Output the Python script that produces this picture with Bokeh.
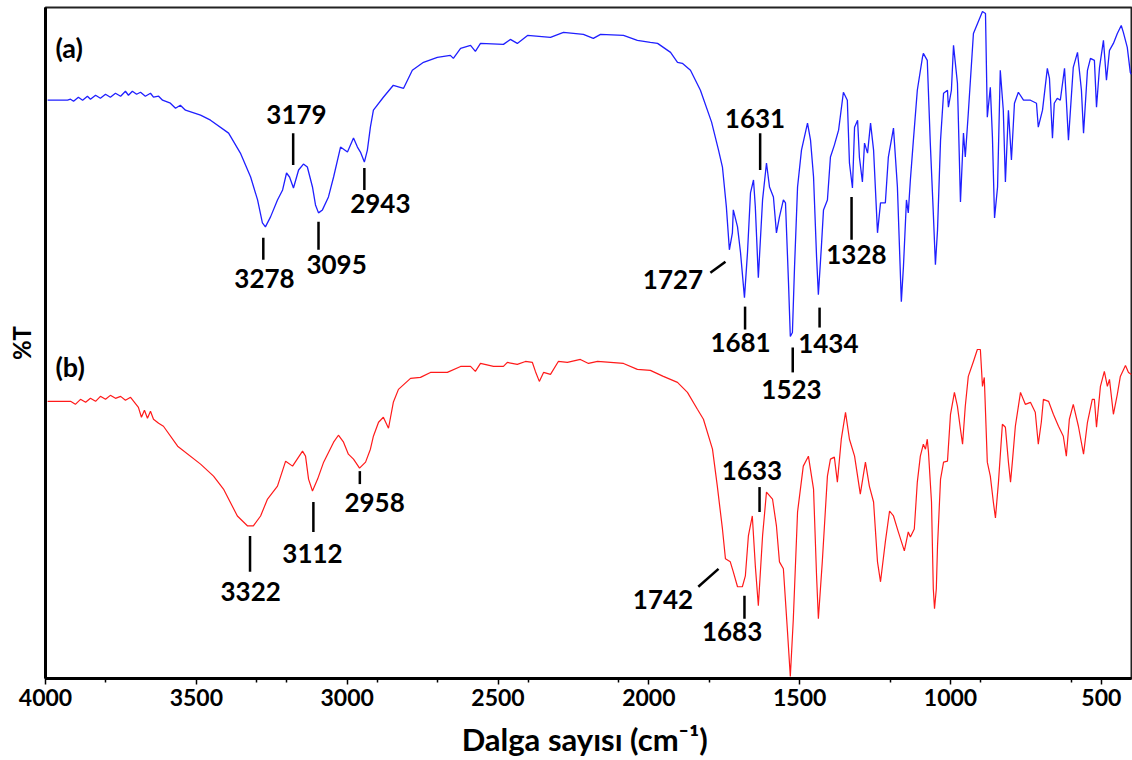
from bokeh.plotting import figure
from bokeh.models import Range1d, FixedTicker
from bokeh.core.properties import value
from bokeh.embed import file_html
from bokeh.resources import INLINE

# ---------------- data ----------------
# spectrum (a), blue: wavenumber (cm-1) and transmittance (arbitrary units)
wn_a = [3993, 3927, 3917, 3907, 3891, 3877, 3861, 3851, 3834, 3818, 3801, 3785, 3768, 3751, 3735,
        3725, 3712, 3698, 3685, 3669, 3652, 3642, 3625, 3612, 3586, 3569, 3553, 3536,
        3486, 3453, 3393, 3354, 3320, 3297, 3281, 3271,
        3254, 3231, 3214, 3201, 3191, 3178, 3161, 3145, 3132, 3115, 3105, 3095, 3082, 3062, 3045,
        3022, 2999, 2979, 2966, 2956, 2943, 2933, 2923, 2913, 2880, 2847, 2813, 2784, 2747, 2701,
        2658, 2648, 2624, 2591, 2575, 2558, 2482, 2459, 2436, 2402, 2326, 2283, 2217, 2184, 2160,
        2084, 2038, 1995, 1971, 1928, 1905, 1889, 1862, 1829, 1792, 1769, 1756, 1743, 1733, 1723,
        1720, 1706, 1696, 1683, 1673, 1663, 1653, 1647, 1637, 1623, 1610, 1600, 1587, 1577, 1567,
        1554, 1547, 1537, 1531, 1524, 1517, 1507, 1494, 1474, 1464, 1454, 1444, 1438, 1428, 1421,
        1408, 1398, 1385, 1371, 1355, 1342, 1335, 1325, 1318, 1308, 1302, 1292, 1285, 1275, 1265,
        1255, 1242, 1232, 1216, 1206, 1189, 1176, 1163, 1156, 1146, 1140, 1133, 1123, 1110, 1093,
        1090, 1077, 1067, 1057, 1050, 1043, 1033, 1023, 1010, 1007, 997, 990, 977, 967, 957,
        951, 941, 924, 894, 884, 878, 868, 861, 854, 844, 835, 825, 818, 808, 798,
        788, 775, 758, 735, 715, 709, 695, 679, 672, 662, 656, 646, 636, 622, 616,
        609, 593, 579, 566, 559, 546, 536, 523, 516, 506, 493, 483, 473, 460, 447,
        434, 427, 414, 404, 400]
t_a = [580, 580, 581, 579, 583, 580, 584, 581, 585, 582, 586, 583, 587, 584, 589,
       585, 589, 586, 588, 584, 587, 583, 584, 580, 577, 572, 575, 570,
       565, 560, 547, 527, 503, 480, 457, 453,
       463, 480, 490, 507, 503, 492, 510, 516, 513, 493, 475, 467, 470, 483, 503,
       533, 528, 542, 533, 528, 518, 530, 553, 570, 583, 595, 592, 610, 618, 623,
       625, 622, 632, 635, 629, 637, 636, 641, 637, 645, 643, 648, 646, 642, 646,
       645, 640, 638, 637, 628, 618, 617, 610, 590, 558, 530, 513, 473, 430, 447,
       470, 453, 427, 382, 427, 487, 500, 473, 402, 480, 517, 493, 483, 447, 463,
       480, 477, 397, 343, 347, 413, 493, 530, 557, 540, 503, 423, 385, 433, 470,
       480, 523, 535, 550, 588, 580, 517, 492, 553, 560, 523, 498, 537, 527, 557,
       530, 447, 477, 477, 523, 552, 493, 378, 413, 480, 467, 500, 540, 590, 623,
       627, 620, 537, 467, 415, 450, 540, 587, 590, 573, 590, 635, 597, 478, 547,
       523, 567, 647, 669, 667, 563, 593, 543, 462, 493, 610, 570, 498, 570, 520,
       577, 588, 580, 580, 577, 553, 570, 612, 602, 542, 577, 582, 580, 612, 580,
       540, 613, 628, 590, 547, 610, 622, 620, 573, 613, 640, 600, 630, 637, 647,
       655, 648, 633, 608, 606]

# spectrum (b), red
wn_b = [3993, 3917, 3901, 3884, 3867, 3851, 3834, 3818, 3801, 3785, 3768, 3751, 3735, 3718, 3705,
        3692, 3682, 3672, 3662, 3652, 3642, 3625, 3609, 3562, 3486, 3443, 3410, 3364, 3330,
        3311, 3287, 3264, 3231, 3204, 3181, 3148, 3138, 3128, 3115, 3098, 3078, 3045, 3029, 3012,
        2996, 2979, 2959, 2939, 2923, 2913, 2896, 2880, 2863, 2847, 2830, 2790, 2757, 2724, 2668,
        2624, 2591, 2575, 2558, 2515, 2482, 2469, 2436, 2409, 2386, 2376, 2363, 2349, 2326, 2300,
        2270, 2227, 2200, 2170, 2084, 2038, 1995, 1952, 1905, 1872, 1839, 1819, 1789, 1773, 1756,
        1746, 1730, 1720, 1706, 1690, 1680, 1670, 1657, 1647, 1637, 1623, 1610, 1590, 1577, 1567,
        1554, 1541, 1531, 1521, 1507, 1488, 1471, 1454, 1444, 1438, 1425, 1408, 1398, 1385, 1375,
        1362, 1348, 1335, 1318, 1299, 1282, 1269, 1255, 1242, 1232, 1216, 1202, 1189, 1173, 1153,
        1140, 1133, 1120, 1110, 1100, 1090, 1083, 1077, 1073, 1063, 1057, 1053, 1047, 1043, 1033,
        1023, 1010, 1000, 987, 977, 967, 960, 951, 941, 924, 911, 901, 894, 888, 878,
        868, 858, 851, 841, 828, 818, 808, 801, 795, 785, 768, 752, 735, 719, 709,
        699, 692, 675, 659, 642, 626, 616, 606, 593, 576, 559, 546, 530, 523, 516,
        503, 490, 480, 473, 460, 447, 437, 420, 410, 400]
t_b = [278, 278, 275, 280, 277, 281, 278, 283, 280, 284, 281, 283, 279, 282, 277,
       272, 262, 269, 261, 268, 260, 256, 253, 233, 215, 203, 190, 163, 153,
       153, 163, 180, 193, 218, 213, 228, 223, 200, 188, 200, 217, 237, 244, 237,
       225, 220, 211, 217, 230, 243, 257, 262, 251, 277, 290, 301, 302, 307, 307,
       313, 313, 308, 316, 313, 313, 317, 315, 318, 317, 308, 298, 307, 305, 318,
       317, 320, 316, 318, 316, 310, 309, 303, 297, 287, 270, 260, 230, 193, 150,
       120, 117, 107, 92, 92, 103, 143, 163, 113, 73, 143, 187, 180, 153, 117,
       110, 50, 2, 60, 167, 213, 223, 190, 103, 60, 117, 203, 220, 222, 197,
       240, 267, 240, 223, 185, 217, 193, 177, 117, 97, 137, 168, 163, 147, 128,
       147, 142, 150, 197, 223, 235, 230, 240, 227, 177, 90, 70, 90, 133, 200,
       217, 218, 265, 287, 273, 250, 235, 273, 303, 318, 330, 330, 293, 302, 217,
       203, 177, 161, 197, 255, 252, 217, 197, 217, 253, 287, 275, 277, 267, 235,
       257, 280, 278, 265, 253, 243, 223, 260, 275, 253, 225, 257, 280, 280, 252,
       293, 308, 293, 300, 265, 285, 303, 314, 307, 305]

tick_values = [4000, 3500, 3000, 2500, 2000, 1500, 1000, 500]
minor_tick_values = [3800, 3300, 3200, 2900, 2700, 2400, 2100, 1800, 1200, 900, 600]

peaks_a = ["3179", "3278", "3095", "2943", "1681", "1631", "1523", "1434", "1328"]
peaks_b = ["3322", "3112", "2958", "1683", "1633"]
slanted_labels = ["1727", "1742"]

# ---------------- annotation layout ----------------
lay_a_tx = [3168, 3274, 3035, 2890, 1696, 1648, 1527, 1405, 1312]
lay_a_ty = [566, 401, 415, 476, 337, 562, 290, 336, 425]
lay_a_y0 = [515, 420, 430, 490, 350, 510, 307, 352, 440]
lay_a_y1 = [547, 442, 458, 512, 373, 547, 332, 372, 483]
lay_b_tx = [3320, 3115, 2909, 1724, 1658]
lay_b_ty = [87, 125, 177, 47, 209]
lay_b_y0 = [107, 147, 195, 60, 167]
lay_b_y1 = [143, 177, 208, 83, 192]
sl_tx = [1920, 1953]
sl_ty = [400, 79]
sl_x0 = [1796, 1836]
sl_y0 = [407, 92]
sl_x1 = [1746, 1769]
sl_y1 = [418, 110]

FONT = "Lato"

p = figure(width=1132, height=760, output_backend="svg", toolbar_location=None,
           x_range=Range1d(4000, 400), y_range=Range1d(0, 673),
           min_border_left=45, min_border_right=1, min_border_top=7, min_border_bottom=80)
p.background_fill_color = "white"
p.border_fill_color = "white"
p.outline_line_color = "#222222"
p.outline_line_width = 2
p.grid.visible = False

p.line(wn_a, t_a, line_color="#1f1fff", line_width=1.3)
p.line(wn_b, t_b, line_color="#ff1a1a", line_width=1.2)

xa = [float(s) for s in peaks_a]
xb = [float(s) for s in peaks_b]
p.segment(x0=xa, y0=lay_a_y0, x1=xa, y1=lay_a_y1, line_color="black", line_width=2.5)
p.segment(x0=xb, y0=lay_b_y0, x1=xb, y1=lay_b_y1, line_color="black", line_width=2.5)
p.segment(x0=sl_x0, y0=sl_y0, x1=sl_x1, y1=sl_y1, line_color="black", line_width=2.5)

txt_kw = dict(text_font=value(FONT), text_font_style="bold", text_font_size="26px",
              text_align="center", text_baseline="middle", text_color="black")
p.text(x=lay_a_tx, y=lay_a_ty, text=peaks_a, **txt_kw)
p.text(x=lay_b_tx, y=lay_b_ty, text=peaks_b, **txt_kw)
p.text(x=sl_tx, y=sl_ty, text=slanted_labels, **txt_kw)

panel_kw = dict(text_font=value(FONT), text_font_style="bold", text_font_size="27px",
                text_align="left", text_baseline="middle", text_color="black")
p.text(x=[3967, 3967], y=[633, 313], text=["(a)", "(b)"], **panel_kw)

xa_ax = p.xaxis[0]
xa_ax.ticker = FixedTicker(ticks=tick_values, minor_ticks=minor_tick_values)
xa_ax.axis_line_width = 3
xa_ax.axis_line_color = "black"
xa_ax.major_tick_out = 6
xa_ax.major_tick_in = 0
xa_ax.minor_tick_out = 4
xa_ax.minor_tick_in = 0
xa_ax.major_tick_line_width = 1.5
xa_ax.minor_tick_line_width = 1.5
xa_ax.major_label_text_font = FONT
xa_ax.major_label_text_font_style = "bold"
xa_ax.major_label_text_font_size = "23px"
xa_ax.major_label_text_color = "black"
xa_ax.major_label_standoff = 4
xa_ax.axis_label = "Dalga sayısı  (cm\u207b\u00b9)"
xa_ax.axis_label_text_font = FONT
xa_ax.axis_label_text_font_style = "bold"
xa_ax.axis_label_text_font_size = "31px"
xa_ax.axis_label_text_color = "black"
xa_ax.axis_label_standoff = 11

ya_ax = p.yaxis[0]
ya_ax.ticker = FixedTicker(ticks=[])
ya_ax.axis_line_width = 3
ya_ax.axis_line_color = "black"
ya_ax.major_tick_line_color = None
ya_ax.minor_tick_line_color = None
ya_ax.axis_label = "%T"
ya_ax.axis_label_text_font = FONT
ya_ax.axis_label_text_font_style = "bold"
ya_ax.axis_label_text_font_size = "24px"
ya_ax.axis_label_text_color = "black"
ya_ax.axis_label_standoff = 10

open("out.html", "w").write(file_html(p, INLINE))
